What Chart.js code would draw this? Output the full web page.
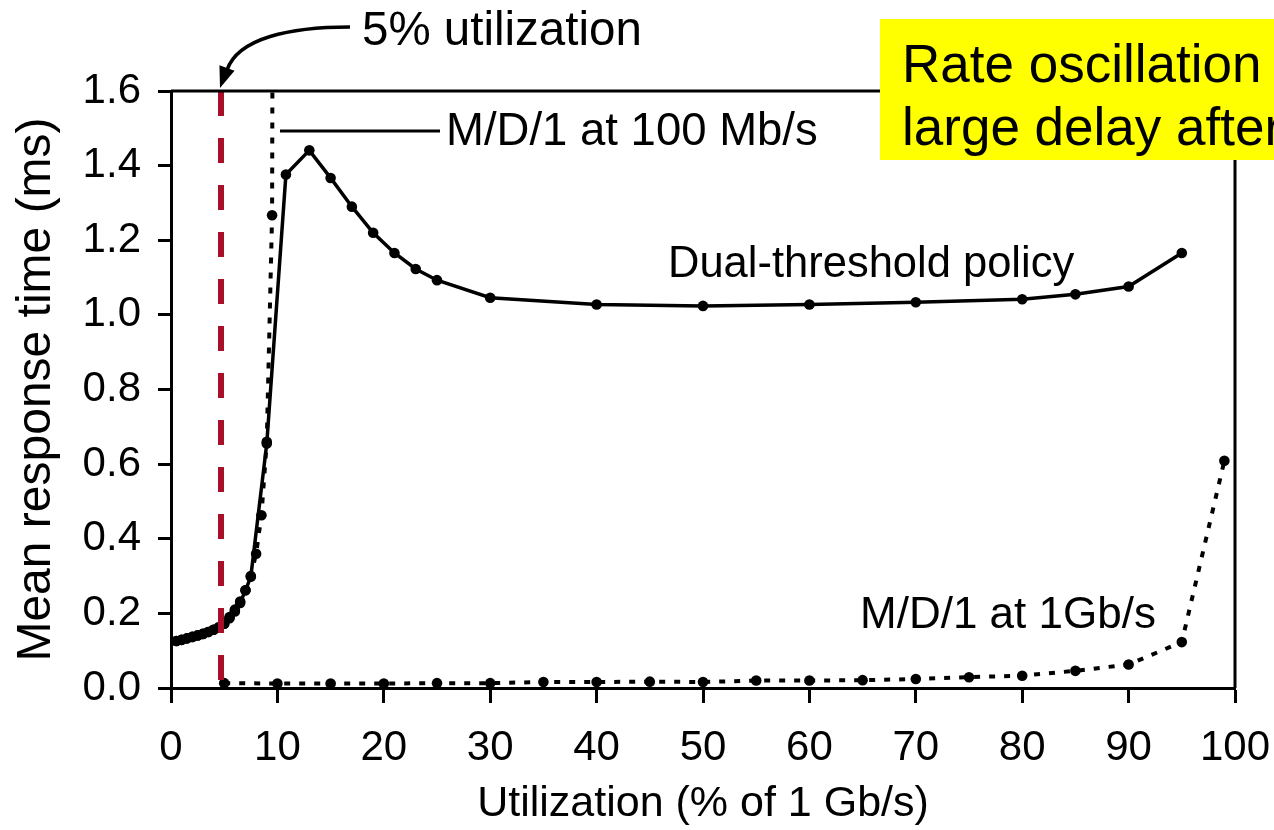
<!DOCTYPE html>
<html>
<head>
<meta charset="utf-8">
<script src="https://cdn.jsdelivr.net/npm/chart.js@4/dist/chart.umd.min.js"></script>
<style>
  html, body { margin: 0; padding: 0; background: #fff; }
  #wrap { width: 1274px; height: 830px; position: relative; }
</style>
</head>
<body>
<div id="wrap"><canvas id="chart" width="1274" height="830"></canvas></div>
<script>
// --- data ---
const dualUtil  = [0.5, 1, 1.5, 2, 2.5, 3, 3.5, 4, 4.5, 5, 5.5, 6, 6.5, 7, 7.5, 9, 10.8, 13, 15, 17, 19, 21, 23, 25, 30, 40, 50, 60, 70, 80, 85, 90, 95];
const dualDelay = [0.126, 0.129, 0.133, 0.137, 0.141, 0.145, 0.150, 0.156, 0.163, 0.172, 0.187, 0.205, 0.228, 0.262, 0.298, 0.655, 1.376, 1.441, 1.367, 1.290, 1.220, 1.166, 1.123, 1.093, 1.046, 1.028, 1.024, 1.028, 1.034, 1.042, 1.055, 1.076, 1.166];

const md100Util  = [0.5, 1, 1.5, 2, 2.5, 3, 3.5, 4, 4.5, 5, 5.5, 6, 6.5, 7, 7.5, 8, 8.5, 9, 9.5, 9.9];
const md100Delay = [0.126, 0.129, 0.133, 0.137, 0.141, 0.145, 0.150, 0.156, 0.163, 0.172, 0.190, 0.210, 0.232, 0.262, 0.300, 0.360, 0.463, 0.660, 1.267, 6.0];

const md1gUtil  = [5, 10, 15, 20, 25, 30, 35, 40, 45, 50, 55, 60, 65, 70, 75, 80, 85, 90, 95, 99];
const md1gDelay = [0.013, 0.012, 0.012, 0.012, 0.013, 0.013, 0.016, 0.016, 0.017, 0.016, 0.020, 0.020, 0.021, 0.024, 0.029, 0.033, 0.046, 0.063, 0.123, 0.609];

const markerUtil = 4.7;          // "5% utilization" marker
const markerSpan = [1.6, 0.02];

const xTicks = [0, 10, 20, 30, 40, 50, 60, 70, 80, 90, 100];
const yTicks = [0, 0.2, 0.4, 0.6, 0.8, 1.0, 1.2, 1.4, 1.6];

const FONT = "'Liberation Sans', Arial, sans-serif";
Chart.defaults.font.family = FONT;
Chart.defaults.color = '#000';

const pts = (xs, ys) => xs.map((x, i) => ({ x: x, y: ys[i] }));

// frame, annotations, arrow and yellow call-out box
const decorations = {
  id: 'decorations',
  afterDraw(chart) {
    const { ctx, chartArea: a } = chart;
    ctx.save();
    ctx.strokeStyle = '#000';
    ctx.lineWidth = 3;
    ctx.beginPath();
    ctx.moveTo(a.left, a.top);
    ctx.lineTo(a.right, a.top);
    ctx.lineTo(a.right, a.bottom);
    ctx.stroke();

    ctx.fillStyle = '#000';
    ctx.textBaseline = 'alphabetic';
    ctx.textAlign = 'left';

    ctx.font = '47.5px ' + FONT;
    ctx.fillText('5% utilization', 362, 45);

    ctx.font = '45.5px ' + FONT;
    ctx.fillText('M/D/1 at 100 Mb/s', 446, 145);
    ctx.beginPath();
    ctx.moveTo(280, 131);
    ctx.lineTo(440, 131);
    ctx.stroke();

    ctx.font = '43.5px ' + FONT;
    ctx.fillText('Dual-threshold policy', 668, 277);
    ctx.font = '44px ' + FONT;
    ctx.fillText('M/D/1 at 1Gb/s', 860, 628);

    // curved arrow
    ctx.lineWidth = 3.5;
    ctx.beginPath();
    ctx.moveTo(350, 27);
    ctx.bezierCurveTo(290, 27, 238, 38, 227, 70);
    ctx.stroke();
    const tip = { x: 220, y: 88 }, base = { x: 227, y: 68 };
    const dx = tip.x - base.x, dy = tip.y - base.y, len = Math.hypot(dx, dy);
    const px = -dy / len * 8, py = dx / len * 8;
    ctx.beginPath();
    ctx.moveTo(tip.x, tip.y);
    ctx.lineTo(base.x + px, base.y + py);
    ctx.lineTo(base.x - px, base.y - py);
    ctx.closePath();
    ctx.fill();

    // yellow box
    ctx.fillStyle = '#FFFF00';
    ctx.fillRect(880, 19, 420, 141);
    ctx.fillStyle = '#000';
    ctx.font = '53px ' + FONT;
    ctx.fillText('Rate oscillation \u2192', 902, 82);
    ctx.fillText('large delay after', 902, 145);
    ctx.restore();
  }
};

new Chart(document.getElementById('chart'), {
  type: 'scatter',
  data: {
    datasets: [
      {
        label: '5% utilization',
        data: markerSpan.map(v => ({ x: markerUtil, y: v })),
        showLine: true,
        borderColor: '#A8102A',
        borderWidth: 6,
        borderDash: [25, 22],
        borderCapStyle: 'butt',
        pointRadius: 0
      },
      {
        label: 'Dual-threshold policy',
        data: pts(dualUtil, dualDelay),
        showLine: true,
        borderColor: '#000',
        backgroundColor: '#000',
        borderWidth: 3.5,
        pointRadius: 5.3,
        pointBorderWidth: 0
      },
      {
        label: 'M/D/1 at 100 Mb/s',
        data: pts(md100Util, md100Delay),
        showLine: true,
        borderColor: '#000',
        backgroundColor: '#000',
        borderWidth: 4,
        borderDash: [6, 9],
        pointRadius: md100Util.map((u, i) => i === md100Util.length - 1 ? 0 : 5.3),
        pointBorderWidth: 0
      },
      {
        label: 'M/D/1 at 1Gb/s',
        data: pts(md1gUtil, md1gDelay),
        showLine: true,
        borderColor: '#000',
        backgroundColor: '#000',
        borderWidth: 4,
        borderDash: [6, 9],
        pointRadius: 5.3,
        pointBorderWidth: 0
      }
    ]
  },
  options: {
    responsive: false,
    animation: false,
    devicePixelRatio: 1,
    layout: { padding: { left: 0, top: 91, right: 39, bottom: 0 } },
    plugins: { legend: { display: false }, tooltip: { enabled: false } },
    scales: {
      x: {
        type: 'linear',
        min: 0, max: 100,
        afterBuildTicks: s => { s.ticks = xTicks.map(v => ({ value: v })); },
        afterFit: s => { s.height = 142; s.paddingLeft = 0; s.paddingRight = 0; },
        ticks: { font: { size: 42 }, color: '#000', padding: 20, maxRotation: 0 },
        grid: { drawOnChartArea: false, drawTicks: true, tickLength: 15, tickWidth: 3, tickColor: '#000' },
        border: { display: true, color: '#000', width: 3 },
        title: { display: true, text: 'Utilization (% of 1 Gb/s)', font: { size: 43 }, color: '#000', padding: { top: 0, bottom: 0 } }
      },
      y: {
        type: 'linear',
        min: 0, max: 1.6,
        afterBuildTicks: s => { s.ticks = yTicks.map(v => ({ value: v })); },
        afterFit: s => { s.width = 171; s.paddingTop = 0; s.paddingBottom = 0; },
        ticks: { font: { size: 42 }, color: '#000', padding: 17, callback: v => v.toFixed(1) },
        grid: { drawOnChartArea: false, drawTicks: true, tickLength: 13, tickWidth: 3, tickColor: '#000' },
        border: { display: true, color: '#000', width: 3 },
        title: { display: true, text: 'Mean response time (ms)', font: { size: 48 }, color: '#000', padding: { top: 8, bottom: 0 } }
      }
    }
  },
  plugins: [decorations]
});
</script>
</body>
</html>
